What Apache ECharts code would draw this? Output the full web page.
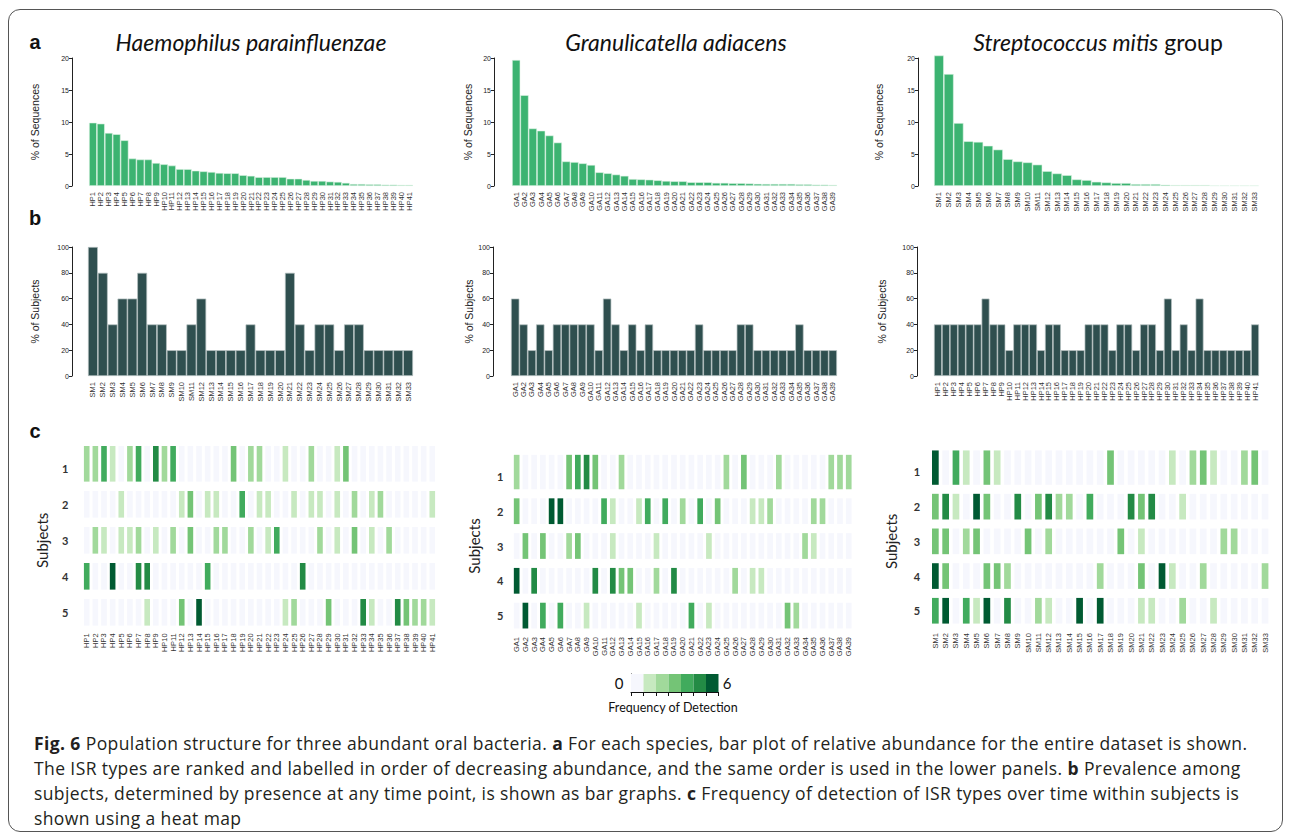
<!DOCTYPE html>
<html>
<head>
<meta charset="utf-8">
<script src="https://cdn.jsdelivr.net/npm/echarts@6/dist/echarts.min.js"></script>
<style>
  html, body { margin: 0; padding: 0; background: #fff; }
  #frame { position: absolute; left: 8px; top: 9px; width: 1275px; height: 823px; border: 1px solid #555; border-radius: 12px; box-sizing: border-box; }
  #chart { position: absolute; left: 0; top: 0; width: 1290px; height: 720px; }
  #caption { position: absolute; left: 34px; top: 731px; font-family: 'Open Sans'; font-size: 17.5px; letter-spacing: 0.4px; line-height: 25px; color: #231f20; white-space: nowrap; }
  #caption b { font-weight: 700; }
</style>
</head>
<body>
<div id="frame"></div>
<div id="chart"></div>
<div id="caption">
  <b>Fig. 6</b> Population structure for three abundant oral bacteria. <b>a</b> For each species, bar plot of relative abundance for the entire dataset is shown.<br>
  The ISR types are ranked and labelled in order of decreasing abundance, and the same order is used in the lower panels. <b>b</b> Prevalence among<br>
  subjects, determined by presence at any time point, is shown as bar graphs. <b>c</b> Frequency of detection of ISR types over time within subjects is<br>
  shown using a heat map
</div>
<script>
function seq(prefix, n) {
  var out = [];
  for (var i = 1; i <= n; i++) out.push(prefix + i);
  return out;
}

// --- categories ---
var hpTypes = seq('HP', 41);
var gaTypes = seq('GA', 39);
var smTypes = seq('SM', 33);
var subjects = ['1', '2', '3', '4', '5'];
var levels = ['0', '1', '2', '3', '4', '5', '6'];

// --- a: % of sequences ---
var hpAbund = [9.9, 9.75, 8.3, 8.1, 7.15, 4.3, 4.15, 4.15, 3.6, 3.4, 3.2, 2.65, 2.65, 2.4, 2.3, 2.2, 2.05, 2.0, 2.0, 1.7,
  1.6, 1.4, 1.4, 1.4, 1.4, 1.15, 1.15, 0.95, 0.8, 0.8, 0.7, 0.65, 0.5, 0.32, 0.32, 0.28, 0.28, 0.22, 0.22, 0.18, 0.18];
var gaAbund = [19.7, 14.2, 9.0, 8.65, 7.9, 6.8, 3.85, 3.75, 3.55, 3.3, 2.15, 2.0, 1.8, 1.6, 1.1, 1.05, 1.0, 0.9, 0.8, 0.75,
  0.75, 0.6, 0.6, 0.6, 0.5, 0.5, 0.45, 0.45, 0.4, 0.35, 0.33, 0.33, 0.33, 0.33, 0.28, 0.28, 0.22, 0.22, 0.18];
var smAbund = [20.4, 17.5, 9.85, 7.0, 6.9, 6.3, 5.7, 4.2, 3.85, 3.7, 3.35, 2.33, 1.97, 1.7, 1.04, 0.93, 0.67, 0.57, 0.47, 0.47,
  0.31, 0.31, 0.31, 0.21, 0.16, 0.16, 0.16, 0.16, 0.1, 0.1, 0.1, 0.1, 0.1];

// --- b: % of subjects (panel order as printed: SM, GA, HP) ---
var smPrev = [100, 80, 40, 60, 60, 80, 40, 40, 20, 20, 40, 60, 20, 20, 20, 20, 40, 20, 20, 20, 80, 40, 20, 40, 40, 20, 40, 40, 20, 20, 20, 20, 20];
var gaPrev = [60, 40, 20, 40, 20, 40, 40, 40, 40, 40, 20, 60, 40, 20, 40, 20, 40, 20, 20, 20, 20, 20, 40, 20, 20, 20, 20, 40, 40, 20, 20, 20, 20, 20, 40, 20, 20, 20, 20];
var hpPrev = [40, 40, 40, 40, 40, 40, 60, 40, 40, 20, 40, 40, 40, 20, 40, 40, 20, 20, 20, 40, 40, 40, 20, 40, 40, 20, 40, 40, 20, 60, 20, 40, 20, 60, 20, 20, 20, 20, 20, 20, 40];

// --- c: frequency of detection, one row per subject ---
var hpFreq1 = [2,2,4,1,0, 2,4,0,5,2, 4,0,0,0,0, 0,0,3,0,2, 2,0,0,1,0, 0,2,0,0,1, 3,0,0,0,0, 0,0,0,0,0, 0];
var hpFreq2 = [0,0,0,0,1, 0,0,0,0,0, 0,1,3,0,1, 1,0,0,4,0, 1,1,0,0,1, 0,1,1,0,1, 0,2,0,1,2, 0,0,0,0,0, 1];
var hpFreq3 = [0,2,1,0,1, 1,2,0,1,0, 2,0,3,0,0, 2,2,0,0,2, 0,1,4,0,0, 0,0,2,0,1, 0,3,0,1,0, 2,0,0,0,0, 0];
var hpFreq4 = [4,0,0,6,0, 0,5,5,0,0, 0,0,0,0,4, 0,0,0,0,0, 0,0,0,0,0, 5,0,0,0,0, 0,0,0,0,0, 0,0,0,0,0, 0];
var hpFreq5 = [0,0,0,0,0, 0,0,1,0,0, 0,3,0,6,0, 0,0,0,0,0, 0,0,0,1,2, 0,0,0,3,0, 0,0,5,1,0, 0,5,3,2,2, 1];

var gaFreq1 = [2,0,0,0,0, 0,3,4,5,3, 0,0,2,0,0, 0,0,0,0,0, 0,0,0,0,2, 0,3,0,0,0, 2,0,0,0,0, 0,2,2,2];
var gaFreq2 = [3,0,0,0,6, 6,0,0,0,0, 4,1,0,0,1, 4,0,4,0,2, 0,4,0,3,0, 0,0,1,1,2, 0,0,0,0,2, 2,0,0,0];
var gaFreq3 = [0,3,0,3,0, 0,2,3,0,0, 0,1,0,0,0, 0,1,0,0,0, 0,0,1,0,0, 0,0,0,0,0, 0,0,0,2,1, 0,0,0,0];
var gaFreq4 = [6,0,5,0,0, 0,0,0,0,5, 0,5,3,3,0, 0,2,0,5,0, 0,0,0,0,0, 2,0,1,1,0, 0,0,0,0,0, 0,0,0,0];
var gaFreq5 = [0,6,0,4,0, 4,0,0,1,0, 0,0,0,0,1, 0,0,0,0,0, 4,0,1,0,0, 0,0,0,0,0, 0,3,2,0,0, 0,0,0,0];

var smFreq1 = [6,0,4,1,0, 3,1,0,0,0, 0,0,0,0,0, 0,0,3,0,0, 0,0,0,1,0, 2,3,1,0,0, 2,3,0];
var smFreq2 = [3,5,1,0,6, 3,0,0,5,0, 3,5,2,2,0, 4,0,0,0,5, 3,5,0,0,1, 0,0,0,0,0, 0,0,0];
var smFreq3 = [3,3,0,2,3, 0,0,0,0,3, 0,2,0,0,0, 0,0,0,3,0, 1,0,0,0,0, 0,0,0,2,2, 0,0,0];
var smFreq4 = [6,3,0,0,0, 3,3,2,0,0, 0,0,0,0,0, 0,2,0,0,0, 3,0,6,1,0, 0,2,0,0,0, 0,0,2];
var smFreq5 = [4,6,0,4,1, 6,0,5,0,0, 2,1,0,0,6, 0,6,0,0,0, 1,1,0,0,2, 0,0,1,0,0, 0,0,0];

var greens = ['#f6f7fd', '#c7e9c0', '#a1d99b', '#74c476', '#41ab5d', '#238b45', '#005a32'];

var grids = [], xAxes = [], yAxes = [], series = [];
var tickFont = 'Liberation Sans';

function barPanel(cats, vals, o) {
  var g = grids.length;
  grids.push({ left: o.left, top: o.top, width: o.width, height: o.height });
  xAxes.push({
    gridIndex: g, type: 'category', data: cats,
    axisLine: { show: false }, axisTick: { show: false },
    axisLabel: { rotate: 90, interval: 0, fontSize: 7.5, color: '#333', margin: 6, fontFamily: tickFont }
  });
  yAxes.push({
    gridIndex: g, type: 'value', min: 0, max: o.max, interval: o.interval, offset: o.offset,
    name: o.name, nameLocation: 'middle', nameGap: o.nameGap, nameRotate: 90,
    nameTextStyle: { fontSize: 10.5, color: '#222', fontFamily: tickFont },
    axisLine: { show: true, lineStyle: { color: '#222', width: 1 } },
    axisTick: { show: true, length: 3, lineStyle: { color: '#222' } },
    axisLabel: { fontSize: 7, color: '#222', margin: 3, fontFamily: tickFont },
    splitLine: { show: false }
  });
  series.push({
    type: 'bar', xAxisIndex: g, yAxisIndex: g, data: vals, clip: false,
    barCategoryGap: '0%',
    itemStyle: { color: o.color, borderColor: o.border, borderWidth: 0.7 }
  });
}

function renderCell(params, api) {
  var xi = api.value(0), yi = api.value(1), v = api.value(2);
  var c = api.coord([xi, yi]);
  var s = api.size([1, 1]);
  var w = s[0] * 0.65, h, top;
  if (yi === 0) { h = s[1] * 0.99; top = c[1] - s[1] * 0.62; }
  else { h = s[1] * 0.74; top = c[1] - h / 2; }
  return { type: 'rect', shape: { x: c[0] - w / 2, y: top, width: w, height: h }, style: { fill: greens[v] } };
}

function heatPanel(cats, rows, o) {
  var g = grids.length;
  grids.push({ left: o.left, top: o.top, width: o.width, height: o.height });
  xAxes.push({
    gridIndex: g, type: 'category', data: cats,
    axisLine: { show: false }, axisTick: { show: false },
    axisLabel: { rotate: 90, interval: 0, fontSize: 7.5, color: '#333', margin: o.xMargin, fontFamily: tickFont }
  });
  yAxes.push({
    gridIndex: g, type: 'category', data: subjects, inverse: true,
    axisLine: { show: false }, axisTick: { show: false },
    axisLabel: { fontSize: 11, fontWeight: 'bold', color: '#333', margin: o.yMargin, fontFamily: 'Lato' },
    name: 'Subjects', nameLocation: 'middle', nameGap: o.nameGap, nameRotate: 90,
    nameTextStyle: { fontSize: 15, color: '#222', fontFamily: 'Lato' }
  });
  var data = [];
  rows.forEach(function(row, r) {
    row.forEach(function(v, c) { data.push([c, r, v]); });
  });
  series.push({
    type: 'custom', xAxisIndex: g, yAxisIndex: g, renderItem: renderCell,
    encode: { x: 0, y: 1 }, data: data, silent: true
  });
}

var seqGreen = '#3cb371', seqBorder = 'rgba(225,245,230,0.8)';
var subjDark = '#2f4f4f', subjBorder = '#b4c0c0';

// a
barPanel(hpTypes, hpAbund, { left: 89, top: 58, width: 324, height: 128, max: 20, interval: 5, offset: 17, name: '% of Sequences', nameGap: 32, color: seqGreen, border: seqBorder });
barPanel(gaTypes, gaAbund, { left: 512, top: 58, width: 325, height: 128, max: 20, interval: 5, offset: 18, name: '% of Sequences', nameGap: 21, color: seqGreen, border: seqBorder });
barPanel(smTypes, smAbund, { left: 934, top: 58, width: 325, height: 128, max: 20, interval: 5, offset: 16, name: '% of Sequences', nameGap: 34, color: seqGreen, border: seqBorder });
// b
barPanel(smTypes, smPrev, { left: 88, top: 247, width: 325, height: 129, max: 100, interval: 20, offset: 16, name: '% of Subjects', nameGap: 32, color: subjDark, border: subjBorder });
barPanel(gaTypes, gaPrev, { left: 511, top: 247, width: 326, height: 129, max: 100, interval: 20, offset: 18, name: '% of Subjects', nameGap: 19, color: subjDark, border: subjBorder });
barPanel(hpTypes, hpPrev, { left: 934, top: 247, width: 325, height: 129, max: 100, interval: 20, offset: 17, name: '% of Subjects', nameGap: 30, color: subjDark, border: subjBorder });
// c
heatPanel(hpTypes, [hpFreq1, hpFreq2, hpFreq3, hpFreq4, hpFreq5], { left: 82.4, top: 450.3, width: 354.2, height: 180, xMargin: 3, yMargin: 14, nameGap: 33 });
heatPanel(gaTypes, [gaFreq1, gaFreq2, gaFreq3, gaFreq4, gaFreq5], { left: 512.3, top: 459, width: 340.8, height: 174, xMargin: 4, yMargin: 9, nameGap: 31 });
heatPanel(smTypes, [smFreq1, smFreq2, smFreq3, smFreq4, smFreq5], { left: 930.2, top: 454.6, width: 340, height: 173.5, xMargin: 5, yMargin: 10, nameGap: 32 });

// colour key
var kg = grids.length;
grids.push({ left: 631, top: 674, width: 87.5, height: 18 });
xAxes.push({
  gridIndex: kg, type: 'category', data: levels,
  axisLine: { show: true, lineStyle: { color: '#111', width: 1 } },
  axisTick: { show: true, length: 4, interval: 0, lineStyle: { color: '#111' } },
  axisLabel: { show: false }
});
yAxes.push({
  gridIndex: kg, type: 'category', data: [''],
  axisLine: { show: true, lineStyle: { color: '#111', width: 1 } },
  axisTick: { show: false }, axisLabel: { show: false }
});
series.push({
  type: 'custom', xAxisIndex: kg, yAxisIndex: kg, silent: true, encode: { x: 0, y: 1 },
  data: levels.map(function(l, i) { return [i, 0, i]; }),
  renderItem: function(params, api) {
    var c = api.coord([api.value(0), api.value(1)]);
    var s = api.size([1, 1]);
    return { type: 'rect', shape: { x: c[0] - s[0] / 2, y: c[1] - s[1] / 2, width: s[0], height: s[1] }, style: { fill: greens[api.value(2)] } };
  }
});

function txt(text, x, y, font, extra) {
  var st = { text: text, x: x, y: y, font: font, fill: '#111', textAlign: 'center', textVerticalAlign: 'middle' };
  for (var k in extra) st[k] = extra[k];
  return { type: 'text', silent: true, style: st };
}

var chart = echarts.init(document.getElementById('chart'), null, { renderer: 'svg' });
chart.setOption({
  animation: false,
  grid: grids,
  xAxis: xAxes,
  yAxis: yAxes,
  series: series,
  graphic: [
    txt('a', 35, 42, 'bold 20px "Liberation Sans"'),
    txt('b', 35, 218, 'bold 20px "Liberation Sans"'),
    txt('c', 35, 431, 'bold 20px "Liberation Sans"'),
    txt('Haemophilus parainfluenzae', 251, 42, 'italic 23px Lato'),
    txt('Granulicatella adiacens', 676, 42, 'italic 23px Lato'),
    txt('{i|Streptococcus mitis} {n|group}', 1098, 42, '23px Lato', {
      rich: {
        i: { fontStyle: 'italic', fontSize: 23, fontFamily: 'Lato', fill: '#111' },
        n: { fontSize: 23, fontFamily: 'Lato', fill: '#111' }
      }
    }),
    txt('0', 619, 683, '15px Lato'),
    txt('6', 727, 683, '15px Lato'),
    txt('Frequency of Detection', 673, 707, '12.5px Lato')
  ]
});
window.addEventListener('resize', function() { chart.resize(); });
</script>
</body>
</html>
